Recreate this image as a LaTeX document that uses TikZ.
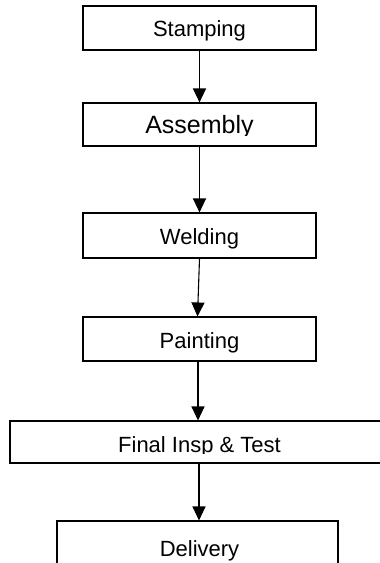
\documentclass[tikz,border=0pt]{standalone}
\usepackage{fontspec}
\setmainfont{Liberation Sans}
\usetikzlibrary{positioning,calc,arrows.meta}

\begin{document}
\begin{tikzpicture}[x=1pt,y=-1pt,
        stage/.style={draw,line width=1.1pt,inner sep=0pt,minimum height=44pt},
        flow/.style={draw,line width=1.1pt,-{Triangle[length=14pt,width=13pt]}},
        lbl/.style={anchor=base,inner sep=0pt,font=\fontsize{22}{24}\selectfont}]
        \useasboundingbox (0,0) rectangle (380,563);

        \node[stage,minimum width=233pt] (stamp) at (199.5,28) {};
        \node[stage,minimum width=233pt,minimum height=43pt] (assem) at (199.5,124.5) {};
        \node[stage,minimum width=233pt,minimum height=45pt] (weld) at (199.5,235.5) {};
        \node[stage,minimum width=233pt] (paint) at (199.5,339) {};
        \node[stage,minimum width=375pt,minimum height=42pt] (final) at (197.5,442) {};
        \node[stage,minimum width=281pt,minimum height=50pt] (deliv) at (197.5,546) {};

        \node[lbl] (stampt) at (stamp.north) [yshift=-31pt] {Stamping};
        \begin{scope}
            \clip (83,103) rectangle (316,135);
            \node[lbl,font=\fontsize{25}{27}\selectfont] (assemt) at (199.5,133) {Assembly};
        \end{scope}
        \node[lbl] (weldt) at (weld.north) [yshift=-32pt] {Welding};
        \node[lbl] (paintt) at (paint.north) [yshift=-32pt] {Painting};
        \begin{scope}
            \clip (10,421) rectangle (385,453.5);
            \node[lbl] (finalt) at (199.5,452) {Final Insp \& Test};
        \end{scope}
        \node[lbl] (delivt) at (199.5,556) {Delivery};

        \draw[flow] (stamp.south) -- (assem.north);
        \draw[flow] (assem.south) -- (weld.north);
        \draw[flow] (weld.south) -- ($ (paint.north)+(-2,0) $);
        \draw[flow] ($ (paint.south)+(-1.5,0) $) -- (final.north -| 198,0);
        \draw[flow] (final.south -| 199,0) -- (deliv.north -| 199,0);
\end{tikzpicture}
\end{document}
